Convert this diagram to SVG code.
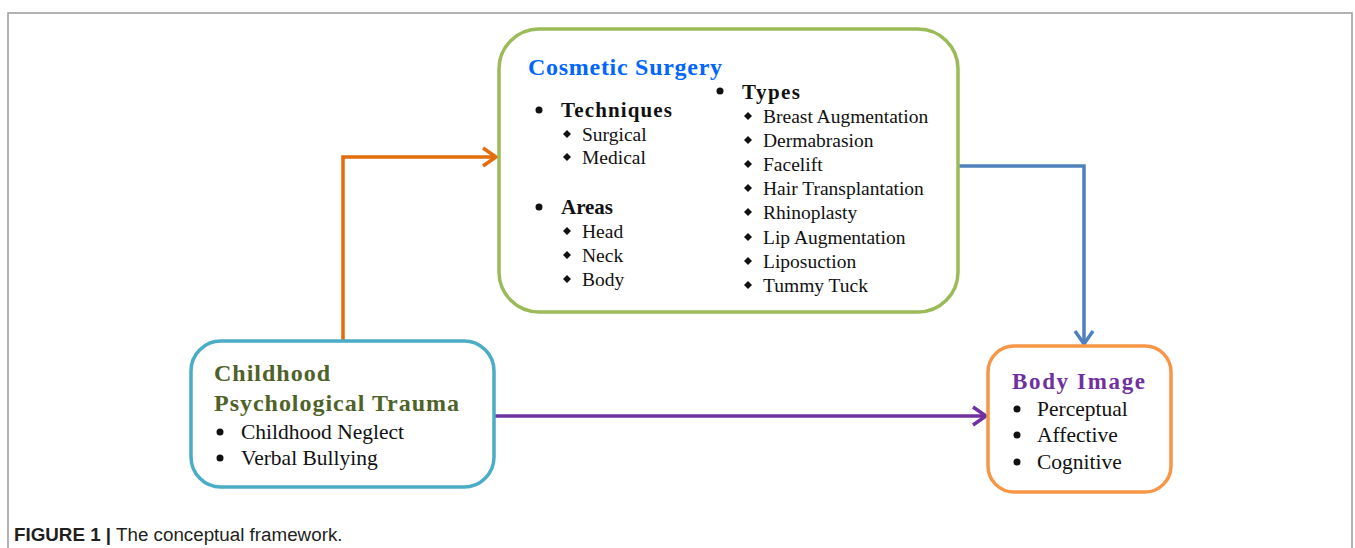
<svg xmlns="http://www.w3.org/2000/svg" width="1355" height="548" viewBox="0 0 1355 548">
<defs>
<style>
.frame{fill:none;stroke:#9a9a9a;stroke-width:1.5}
.box{fill:#fff;stroke-width:3.5}
.t{font-family:"Liberation Serif",serif;fill:#111}
.h{font-family:"Liberation Serif",serif;font-weight:bold}
.it{font-size:19.5px}
.it2{font-size:21.5px}
.conn{fill:none;stroke-width:3.5;stroke-linejoin:miter}
.dia{fill:#111}
.dot{fill:#111}
.cap{font-family:"Liberation Sans",Arial,sans-serif;font-size:18.8px;fill:#231f20}
</style>
<marker id="mo" markerUnits="userSpaceOnUse" markerWidth="20" markerHeight="24" refX="15" refY="10" orient="auto" viewBox="0 0 20 20"><path d="M2,1 L15,10 L2,19" fill="none" stroke="#e46c0a" stroke-width="3.5"/></marker>
<marker id="mb" markerUnits="userSpaceOnUse" markerWidth="20" markerHeight="24" refX="15" refY="10" orient="auto" viewBox="0 0 20 20"><path d="M2,1 L15,10 L2,19" fill="none" stroke="#4f81bd" stroke-width="3.5"/></marker>
<marker id="mp" markerUnits="userSpaceOnUse" markerWidth="20" markerHeight="24" refX="15" refY="10" orient="auto" viewBox="0 0 20 20"><path d="M2,1 L15,10 L2,19" fill="none" stroke="#7030a0" stroke-width="3.5"/></marker>
<path id="d" d="M0,-4 L4,0 L0,4 L-4,0 Z"/>
</defs>
<rect width="1355" height="548" fill="#fff"/>
<path class="frame" d="M8,548 L8,13 L1352,13 L1352,548"/>

<g id="connectors">
<polyline class="conn" stroke="#e46c0a" points="343,340 343,157 496,157" marker-end="url(#mo)"/>
<polyline class="conn" stroke="#4f81bd" points="958,166 1084,166 1084,344" marker-end="url(#mb)"/>
<polyline class="conn" stroke="#7030a0" points="494,416 986,416" marker-end="url(#mp)"/>
</g>

<g id="cosmetic-surgery">
<rect class="box" x="499" y="29" width="459" height="283" rx="40" stroke="#9bbb59"/>
<text class="h" x="528" y="75" font-size="24" fill="#0066ff" textLength="194" lengthAdjust="spacing">Cosmetic Surgery</text>
<circle class="dot" cx="539" cy="110" r="3.5"/>
<text class="h" x="561" y="117" font-size="21" fill="#111" textLength="111" lengthAdjust="spacing">Techniques</text>
<use href="#d" x="567" y="134" class="dia"/>
<text class="t it" x="582" y="141">Surgical</text>
<use href="#d" x="567" y="157" class="dia"/>
<text class="t it" x="582" y="164">Medical</text>
<circle class="dot" cx="539" cy="207" r="3.5"/>
<text class="h" x="561" y="214" font-size="21" fill="#111" textLength="52" lengthAdjust="spacing">Areas</text>
<use href="#d" x="567" y="231" class="dia"/>
<text class="t it" x="582" y="238">Head</text>
<use href="#d" x="567" y="255" class="dia"/>
<text class="t it" x="582" y="262">Neck</text>
<use href="#d" x="567" y="279" class="dia"/>
<text class="t it" x="582" y="286">Body</text>
<circle class="dot" cx="720" cy="91" r="3.5"/>
<text class="h" x="742" y="99" font-size="21" fill="#111" textLength="58" lengthAdjust="spacing">Types</text>
<use href="#d" x="748" y="116" class="dia"/>
<text class="t it" x="763" y="123">Breast Augmentation</text>
<use href="#d" x="748" y="140" class="dia"/>
<text class="t it" x="763" y="147">Dermabrasion</text>
<use href="#d" x="748" y="164" class="dia"/>
<text class="t it" x="763" y="171">Facelift</text>
<use href="#d" x="748" y="188" class="dia"/>
<text class="t it" x="763" y="195">Hair Transplantation</text>
<use href="#d" x="748" y="212" class="dia"/>
<text class="t it" x="763" y="219">Rhinoplasty</text>
<use href="#d" x="748" y="237" class="dia"/>
<text class="t it" x="763" y="244">Lip Augmentation</text>
<use href="#d" x="748" y="261" class="dia"/>
<text class="t it" x="763" y="268">Liposuction</text>
<use href="#d" x="748" y="285" class="dia"/>
<text class="t it" x="763" y="292">Tummy Tuck</text>
</g>

<g id="childhood-trauma">
<rect class="box" x="191" y="341" width="303" height="146" rx="30" stroke="#4bacc6"/>
<text class="h" x="214" y="381" font-size="24" fill="#4f6228" textLength="116" lengthAdjust="spacing">Childhood</text>
<text class="h" x="214" y="411" font-size="24" fill="#4f6228" textLength="245" lengthAdjust="spacing">Psychological Trauma</text>
<circle class="dot" cx="220" cy="432" r="3.5"/>
<text class="t it2" x="241" y="439">Childhood Neglect</text>
<circle class="dot" cx="220" cy="458" r="3.5"/>
<text class="t it2" x="241" y="465">Verbal Bullying</text>
</g>

<g id="body-image">
<rect class="box" x="988" y="346" width="183" height="146" rx="26" stroke="#f79646"/>
<text class="h" x="1012" y="389" font-size="23" fill="#7030a0" textLength="133" lengthAdjust="spacing">Body Image</text>
<circle class="dot" cx="1017" cy="409" r="3.5"/>
<text class="t it2" x="1037" y="416">Perceptual</text>
<circle class="dot" cx="1017" cy="435" r="3.5"/>
<text class="t it2" x="1037" y="442">Affective</text>
<circle class="dot" cx="1017" cy="462" r="3.5"/>
<text class="t it2" x="1037" y="469">Cognitive</text>
</g>

<text class="cap" x="14" y="541"><tspan font-weight="bold">FIGURE 1 |</tspan> The conceptual framework.</text>
</svg>
